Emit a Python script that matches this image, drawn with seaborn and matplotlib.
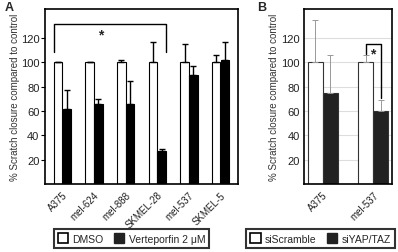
import numpy as np
import pandas as pd
import seaborn as sns
import matplotlib.pyplot as plt
from matplotlib.patches import Patch

# Panel A values (% scratch closure, mean and upper error)
cells_a = ['A375', 'mel-624', 'mel-888', 'SKMEL-28', 'mel-537', 'SKMEL-5']
dmso = [100, 100, 100, 100, 100, 100]
dmso_err = [0, 0, 2, 17, 15, 6]
verte = [62, 66, 66, 27, 90, 102]
verte_err = [15, 4, 19, 2, 7, 15]
groups_a = ['DMSO', 'Verteporfin 2 \u03bcM']

# Panel B values
cells_b = ['A375', 'mel-537']
scramble = [100, 100]
scramble_err = [35, 6]
siyap = [75, 60]
siyap_err = [31, 9]
groups_b = ['siScramble', 'siYAP/TAZ']

yticks = [20, 40, 60, 80, 100, 120]

sns.set_style('white')
plt.rcParams['font.family'] = ['Liberation Sans', 'DejaVu Sans']
plt.rcParams['font.size'] = 8

df_a = pd.DataFrame({
    'cell': cells_a * 2,
    'cond': [groups_a[0]] * len(cells_a) + [groups_a[1]] * len(cells_a),
    'value': dmso + verte,
    'err': dmso_err + verte_err,
})
df_b = pd.DataFrame({
    'cell': cells_b * 2,
    'cond': [groups_b[0]] * len(cells_b) + [groups_b[1]] * len(cells_b),
    'value': scramble + siyap,
    'err': scramble_err + siyap_err,
})

fig = plt.figure(figsize=(3.98, 2.53), dpi=100)
ax_a = fig.add_axes([45 / 398, 1 - 185 / 253, 193 / 398, 175 / 253])
ax_b = fig.add_axes([304 / 398, 1 - 185 / 253, 88 / 398, 175 / 253])


def draw_panel(ax, df, cells, groups, colors, edge, err_color, err_lw, width):
    sns.barplot(data=df, x='cell', y='value', hue='cond', order=cells,
                hue_order=groups, palette=colors, width=width, gap=0.04,
                errorbar=None, edgecolor=edge, linewidth=0.8, ax=ax,
                legend=False)
    for cont, g in zip(ax.containers, groups):
        sub = df[df['cond'] == g].set_index('cell').loc[cells]
        xs = [b.get_x() + b.get_width() / 2 for b in cont]
        ax.errorbar(xs, sub['value'], yerr=[np.zeros(len(cells)), sub['err']],
                    fmt='none', ecolor=err_color, elinewidth=err_lw,
                    capsize=2, capthick=err_lw, zorder=1)
    ax.set_ylim(0, 144)
    ax.set_yticks(yticks)
    ax.set_yticklabels([str(t) for t in yticks], fontsize=8, color='#222222')
    ax.set_xlabel('')
    ax.set_ylabel('% Scratch closure compared to control', fontsize=7,
                  color='#333333')
    ax.set_xticks(range(len(cells)))
    ax.set_xticklabels(cells, rotation=45, ha='right', rotation_mode='anchor',
                       fontsize=7, color='#222222')
    ax.tick_params(axis='x', length=0, pad=4)
    for s in ax.spines.values():
        s.set_color('black')
        s.set_linewidth(1.2)
    return ax


draw_panel(ax_a, df_a, cells_a, groups_a, ['white', 'black'], 'black',
           'black', 1.0, 0.56)
ax_a.tick_params(axis='y', length=3, width=0.8, color='black', pad=1,
                 direction='out', left=True)
ax_a.yaxis.set_label_coords(-0.13, 0.5)

draw_panel(ax_b, df_b, cells_b, groups_b, ['white', '#222222'], '#333333',
           '#999999', 0.7, 0.6)
ax_b.set_axisbelow(True)
ax_b.yaxis.grid(True, color='#dddddd', linewidth=0.8)
ax_b.tick_params(axis='y', length=0, pad=3)
ax_b.yaxis.set_label_coords(-0.28, 0.5)

# significance brackets
a_left = ax_a.containers[0][0]
a_right = ax_a.containers[1][3]
x0 = a_left.get_x()
x1 = a_right.get_x() + a_right.get_width()
ax_a.plot([x0, x0, x1, x1], [109, 132, 132, 109], color='black', lw=1.0)
ax_a.text((x0 + x1) / 2 - 0.3, 129, '*', ha='center', va='top',
          fontsize=10, fontweight='bold')

b_left = ax_b.containers[0][1]
b_right = ax_b.containers[1][1]
bx0 = b_left.get_x() + b_left.get_width() / 2
bx1 = b_right.get_x() + b_right.get_width() / 2
ax_b.plot([bx0, bx0, bx1, bx1], [107, 115, 115, 71], color='black', lw=1.0)
ax_b.text((bx0 + bx1) / 2, 113, '*', ha='center', va='top',
          fontsize=10, fontweight='bold')

# legends
leg_kw = dict(ncol=2, fontsize=7.5, frameon=True, fancybox=False,
              handlelength=1.0, handleheight=1.0, handletextpad=0.4,
              columnspacing=1.0, borderpad=0.4, loc='center')
h_a = [Patch(facecolor='white', edgecolor='black', lw=1.2, label=groups_a[0]),
       Patch(facecolor='#222222', edgecolor='#222222', label=groups_a[1])]
leg_a = fig.legend(handles=h_a, bbox_to_anchor=(131.5 / 398, 1 - 239.5 / 253),
                   **leg_kw)
h_b = [Patch(facecolor='white', edgecolor='black', lw=1.2, label=groups_b[0]),
       Patch(facecolor='#222222', edgecolor='#222222', label=groups_b[1])]
leg_b = fig.legend(handles=h_b, bbox_to_anchor=(320.5 / 398, 1 - 239.5 / 253),
                   **leg_kw)
for leg in (leg_a, leg_b):
    leg.get_frame().set_edgecolor('black')
    leg.get_frame().set_linewidth(1.5)

fig.text(5 / 398, 1 - 2 / 253, 'A', fontsize=9, fontweight='bold', va='top')
fig.text(257 / 398, 1 - 2 / 253, 'B', fontsize=9, fontweight='bold', va='top')

fig.savefig('out.png', dpi=100)
